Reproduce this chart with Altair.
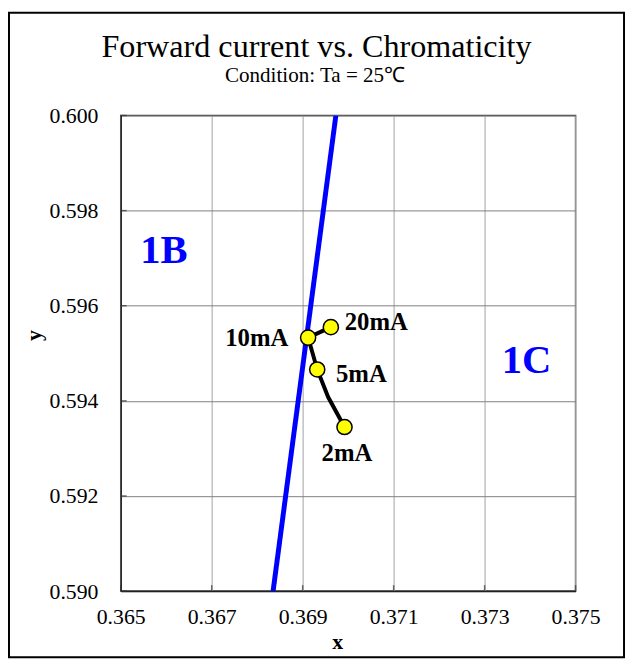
import altair as alt
import pandas as pd

TITLE = "Forward current vs. Chromaticity"
SUBTITLE = "Condition: Ta = 25\u2103"

CURRENTS = ["20mA", "10mA", "5mA", "2mA"]
CHROMA_X = [0.36962, 0.36912, 0.36932, 0.36992]
CHROMA_Y = [0.59555, 0.59533, 0.59466, 0.59345]

PATH_X = [0.36962, 0.36912, 0.36932, 0.36956, 0.36992]
PATH_Y = [0.59555, 0.59533, 0.59466, 0.59408, 0.59345]

BOUNDARY_X = [0.36835, 0.36973]
BOUNDARY_Y = [0.590, 0.600]

REGIONS = ["1B", "1C"]
REGION_X = [0.36595, 0.37392]
REGION_Y = [0.59715, 0.59484]

X_TICKS = [0.365, 0.367, 0.369, 0.371, 0.373, 0.375]
Y_TICKS = [0.590, 0.592, 0.594, 0.596, 0.598, 0.600]

FONT = "Liberation Serif"
W, H = 460, 481

pts = pd.DataFrame({"current": CURRENTS, "x": CHROMA_X, "y": CHROMA_Y})
path = pd.DataFrame({"i": list(range(len(PATH_X))), "x": PATH_X, "y": PATH_Y})
bnd = pd.DataFrame({"i": [0, 1], "x": BOUNDARY_X, "y": BOUNDARY_Y})
reg = pd.DataFrame({"r": REGIONS, "x": REGION_X, "y": REGION_Y})
xt = pd.DataFrame({"v": X_TICKS})
yt = pd.DataFrame({"v": Y_TICKS})

xs = alt.Scale(domain=[0.365, 0.375], nice=False, zero=False)
ys = alt.Scale(domain=[0.590, 0.600], nice=False, zero=False)

xax = alt.Axis(values=X_TICKS, format=".3f", title="x", grid=True,
               gridColor="#C0C0C0", gridWidth=1.5, ticks=False, labelFlush=False,
               labelPadding=16, titleX=219, titleY=58,
               titleBaseline="alphabetic", titleAlign="center")
yax = alt.Axis(values=Y_TICKS, format=".3f", title="y", grid=True,
               gridColor="#808080", gridWidth=1, ticks=False, labelFlush=False,
               labelPadding=23, titleX=-81.5, titleY=222, titleAngle=270,
               titleBaseline="alphabetic", titleAlign="center")

boundary = alt.Chart(bnd).mark_line(color="#0000FF", strokeWidth=5, clip=True).encode(
    x=alt.X("x:Q", scale=xs, axis=xax), y=alt.Y("y:Q", scale=ys, axis=yax), order="i:Q")

xticks_in = alt.Chart(xt).mark_tick(orient="vertical", size=6, thickness=1.5, color="#333333").encode(
    x="v:Q", y=alt.value(H - 3))
yticks_in = alt.Chart(yt).mark_tick(orient="horizontal", size=6, thickness=1.5, color="#333333").encode(
    y="v:Q", x=alt.value(3))

curve = alt.Chart(path).mark_line(color="black", strokeWidth=4).encode(
    x="x:Q", y="y:Q", order="i:Q")

points = alt.Chart(pts).mark_point(filled=True, fill="#FFFF00", stroke="black",
                                   strokeWidth=1.5, size=235, opacity=1, shape="circle").encode(
    x="x:Q", y="y:Q")

LABEL_STYLE = {
    "20mA": dict(align="left", dx=14, dy=-5.5),
    "10mA": dict(align="right", dx=-20, dy=0),
    "5mA": dict(align="left", dx=19, dy=5),
    "2mA": dict(align="center", dx=2.5, dy=26.5),
}
label_layers = []
for c in CURRENTS:
    st = LABEL_STYLE[c]
    label_layers.append(
        alt.Chart(pts).transform_filter(alt.datum.current == c).mark_text(
            font=FONT, fontSize=25, fontWeight="bold", color="black",
            baseline="middle", **st).encode(x="x:Q", y="y:Q", text="current:N"))

regions = alt.Chart(reg).mark_text(font=FONT, fontSize=41, fontWeight="bold",
                                   color="#0000FF", align="center", baseline="middle").encode(
    x="x:Q", y="y:Q", text="r:N")

one = pd.DataFrame({"t": [TITLE], "s": [SUBTITLE]})
title = alt.Chart(one).mark_text(font=FONT, fontSize=32.5, color="black", align="center",
                                 baseline="alphabetic").encode(
    x=alt.value(198), y=alt.value(-59.5), text="t:N")
subtitle = alt.Chart(one).mark_text(font=FONT, fontSize=21.3, color="black", align="center",
                                    baseline="alphabetic").encode(
    x=alt.value(196.5), y=alt.value(-34), text="s:N")

frame = alt.Chart(one).mark_rect(filled=False, stroke="black", strokeWidth=2).encode(
    x=alt.value(-113), x2=alt.value(509), y=alt.value(-104), y2=alt.value(548))

chart = alt.layer(boundary, xticks_in, yticks_in, curve, points, *label_layers, regions,
                  title, subtitle, frame).properties(
    width=W, height=H,
    autosize=alt.AutoSizeParams(type="none"),
    padding={"left": 114, "top": 105, "right": 51, "bottom": 69},
    background="white",
).configure_view(stroke="#404040", strokeWidth=1.5).configure_axis(
    labelFont=FONT, labelFontSize=22, labelColor="black",
    titleFont=FONT, titleFontSize=22, titleFontWeight="bold", titleColor="black",
    domainColor="#222222", domainWidth=1.5,
)

chart.save("out.html", embed_options={"renderer": "svg", "actions": False})
